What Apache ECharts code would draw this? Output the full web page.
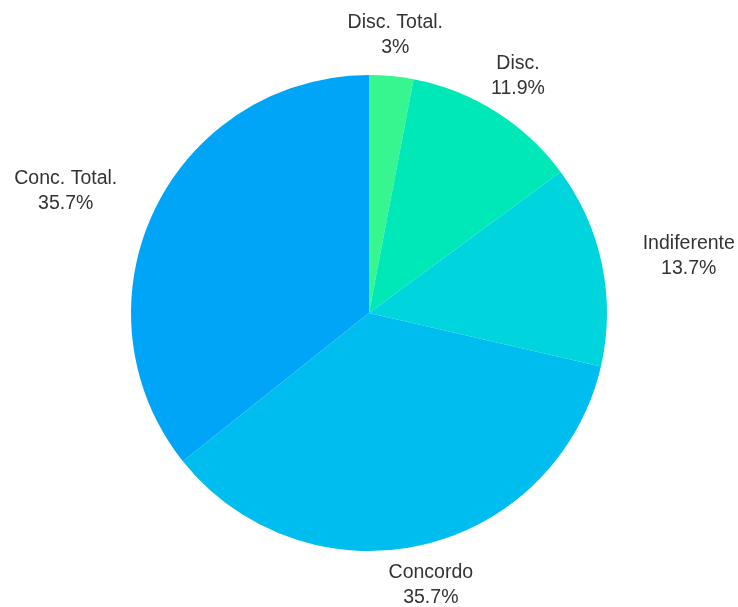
<!DOCTYPE html>
<html>
<head>
<meta charset="utf-8">
<script src="https://cdn.jsdelivr.net/npm/echarts@6/dist/echarts.min.js"></script>
<style>
  html, body { margin: 0; padding: 0; background: #ffffff; }
  #chart { width: 738px; height: 607px; }
</style>
</head>
<body>
<div id="chart"></div>
<script>
// Answer categories, clockwise from the top
var categories = ['Disc. Total.', 'Disc.', 'Indiferente', 'Concordo', 'Conc. Total.'];
// Share of answers, in percent
var percentages = [3, 11.9, 13.7, 35.7, 35.7];
// Slice colours, one per category
var sliceColors = ['#37f58f', '#00e7b8', '#00d4dc', '#00bdf0', '#00a5f7'];

var total = percentages.reduce(function (a, b) { return a + b; }, 0);
// Horizontal component of each slice's mid direction (sin of the angle from 12 o'clock)
var midSin = [];
(function () {
  var acc = 0;
  percentages.forEach(function (v) {
    var mid = (acc + v / 2) / total * 2 * Math.PI;
    midSin.push(Math.sin(mid));
    acc += v;
  });
})();

var chart = echarts.init(document.getElementById('chart'), null, { renderer: 'canvas' });

chart.setOption({
  animation: false,
  series: [{
    type: 'pie',
    center: [369, 313],
    radius: 238,
    startAngle: 90,
    clockwise: true,
    avoidLabelOverlap: false,
    itemStyle: { borderWidth: 0 },
    emphasis: { disabled: true },
    label: {
      show: true,
      position: 'outside',
      formatter: function (p) { return p.name + '\n' + p.value + '%'; },
      fontFamily: '"Liberation Sans", Arial, sans-serif',
      fontSize: 19.5,
      lineHeight: 25,
      color: '#333333',
      padding: [3, 0, 0, 0],
      distanceToLabelLine: 0
    },
    labelLine: { show: false, length: 41.5, length2: 0 },
    labelLayout: function (params) {
      // labels near the top or bottom sit centred over their anchor
      if (Math.abs(midSin[params.dataIndex]) < 0.7) {
        return { align: 'center' };
      }
      // side labels keep their edge on the anchor, with lines centred inside the block
      var r = params.labelRect;
      return { x: r.x + r.width / 2, align: 'center' };
    },
    data: categories.map(function (name, i) {
      return { name: name, value: percentages[i], itemStyle: { color: sliceColors[i] } };
    })
  }]
});
</script>
</body>
</html>
